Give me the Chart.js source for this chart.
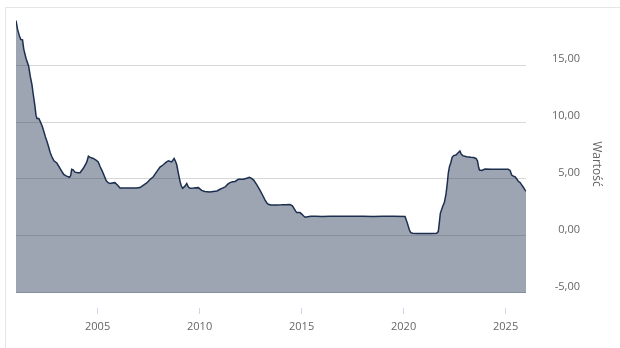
<!DOCTYPE html>
<html>

<head>
  <meta charset="utf-8">
  <title>WIBOR</title>
  <style>
    body { margin: 0; background: #fff; overflow: hidden; }
    #ramka {
      position: absolute; left: 5px; top: 7px; width: 700px; height: 400px;
      border-left: 1px solid #e6e6e6; border-top: 1px solid #e6e6e6;
    }
    #wykres { position: absolute; left: 0; top: 0; }
  </style>
</head>

<body>
  <div id="ramka"></div>
  <canvas id="wykres" width="620" height="348"></canvas>

  <script src="https://cdn.jsdelivr.net/npm/chart.js"></script>

  <script>
    // daty jako ułamek roku
    const daty = [
      2001.00, 2001.08, 2001.16, 2001.23, 2001.32, 2001.38, 2001.49, 2001.62, 2001.70, 2001.78,
      2001.84, 2001.92, 2001.98, 2002.03, 2002.12, 2002.20, 2002.29, 2002.36, 2002.44, 2002.52,
      2002.60, 2002.68, 2002.76, 2002.86, 2003.00, 2003.10, 2003.20, 2003.34, 2003.48, 2003.62,
      2003.68, 2003.73, 2003.80, 2003.89, 2004.04, 2004.14, 2004.30, 2004.40, 2004.47, 2004.55,
      2004.64, 2004.79, 2004.92, 2005.03, 2005.12, 2005.20, 2005.30, 2005.41, 2005.50, 2005.61,
      2005.72, 2005.85, 2005.97, 2006.10, 2006.30, 2006.60, 2006.90, 2007.08, 2007.20, 2007.32,
      2007.41, 2007.57, 2007.73, 2007.90, 2008.06, 2008.22, 2008.35, 2008.47, 2008.63, 2008.75,
      2008.82, 2008.88, 2008.96, 2009.04, 2009.10, 2009.17, 2009.27, 2009.37, 2009.45, 2009.53,
      2009.70, 2009.94, 2010.10, 2010.26, 2010.50, 2010.67, 2010.85, 2011.00, 2011.12, 2011.25,
      2011.38, 2011.49, 2011.62, 2011.74, 2011.90, 2012.05, 2012.14, 2012.31, 2012.44, 2012.55,
      2012.65, 2012.80, 2012.95, 2013.04, 2013.14, 2013.21, 2013.30, 2013.37, 2013.50, 2013.78,
      2014.00, 2014.20, 2014.43, 2014.55, 2014.62, 2014.70, 2014.76, 2014.92, 2015.02, 2015.10,
      2015.18, 2015.30, 2015.45, 2015.70, 2016.00, 2016.40, 2016.70, 2017.00, 2017.50, 2018.00,
      2018.50, 2019.00, 2019.50, 2020.07, 2020.18, 2020.28, 2020.35, 2020.45, 2020.70, 2021.00,
      2021.30, 2021.62, 2021.70, 2021.76, 2021.80, 2021.92, 2022.00, 2022.08, 2022.14, 2022.19,
      2022.25, 2022.31, 2022.38, 2022.45, 2022.57, 2022.65, 2022.76, 2022.82, 2022.90, 2023.09,
      2023.30, 2023.42, 2023.55, 2023.62, 2023.68, 2023.72, 2023.83, 2023.99, 2024.30, 2024.60,
      2024.90, 2025.13, 2025.22, 2025.30, 2025.38, 2025.46, 2025.55, 2025.62, 2025.70, 2025.78,
      2025.86, 2025.95, 2026.00
    ];

    const wartosci = [
      18.90, 18.10, 17.60, 17.25, 17.20, 16.40, 15.60, 14.90, 14.00, 13.30,
      12.50, 11.50, 10.60, 10.30, 10.30, 10.00, 9.60, 9.20, 8.70, 8.30,
      7.80, 7.30, 6.95, 6.60, 6.40, 6.10, 5.80, 5.40, 5.25, 5.15,
      5.30, 5.85, 5.80, 5.60, 5.55, 5.55, 5.94, 6.25, 6.50, 7.00,
      6.90, 6.80, 6.65, 6.50, 6.10, 5.80, 5.40, 4.90, 4.70, 4.60,
      4.65, 4.68, 4.47, 4.20, 4.20, 4.22, 4.20, 4.25, 4.40, 4.55,
      4.65, 4.95, 5.20, 5.64, 6.05, 6.25, 6.45, 6.60, 6.50, 6.80,
      6.55, 6.25, 5.50, 4.80, 4.40, 4.18, 4.35, 4.60, 4.30, 4.18,
      4.20, 4.24, 4.00, 3.90, 3.85, 3.90, 3.95, 4.10, 4.20, 4.30,
      4.55, 4.68, 4.75, 4.78, 4.97, 4.98, 4.97, 5.06, 5.15, 5.05,
      4.90, 4.50, 4.05, 3.75, 3.40, 3.15, 2.90, 2.78, 2.72, 2.72,
      2.73, 2.75, 2.76, 2.65, 2.45, 2.20, 2.05, 2.05, 1.90, 1.75,
      1.65, 1.68, 1.72, 1.72, 1.70, 1.72, 1.73, 1.73, 1.73, 1.72,
      1.71, 1.72, 1.72, 1.70, 1.15, 0.55, 0.29, 0.24, 0.22, 0.21,
      0.21, 0.23, 0.38, 1.30, 1.99, 2.60, 2.95, 3.70, 4.60, 5.50,
      6.10, 6.40, 6.90, 7.05, 7.10, 7.25, 7.45, 7.20, 7.05, 6.95,
      6.90, 6.88, 6.80, 6.60, 6.00, 5.78, 5.75, 5.88, 5.86, 5.85,
      5.85, 5.85, 5.75, 5.35, 5.25, 5.20, 5.00, 4.80, 4.70, 4.50,
      4.30, 4.05, 3.92
    ];

    const lataEtykiety = [2005, 2010, 2015, 2020, 2025];
    const wartosciEtykiety = [-5, 0, 5, 10, 15];

    const czcionka = { family: "'Open Sans', sans-serif", size: 11 };

    const ctx = document.getElementById('wykres').getContext('2d');

    const myChart = new Chart(ctx, {
      type: 'line',
      data: {
        datasets: [{
          label: 'Wartość',
          data: daty.map((x, i) => ({ x: x, y: wartosci[i] })),
          borderColor: '#1c2f4f',
          borderWidth: 1.5,
          backgroundColor: 'rgba(28, 47, 79, 0.43)',
          fill: { value: -5 },
          pointRadius: 0,
          tension: 0,
        }],
      },
      options: {
        responsive: false,
        animation: false,
        layout: { padding: { left: 16, top: 20, right: 16.8, bottom: 8 } },
        plugins: { legend: { display: false }, tooltip: { enabled: false } },
        scales: {
          x: {
            type: 'linear',
            position: 'bottom',
            min: 2001,
            max: 2026,
            afterBuildTicks: (scale) => {
              scale.ticks = lataEtykiety.map(v => ({ value: v }));
            },
            grid: { drawOnChartArea: false, drawTicks: true, tickLength: 6, tickColor: '#ccd6eb' },
            border: { display: false },
            ticks: {
              color: '#666666', font: czcionka, padding: 6.4, maxRotation: 0,
              callback: (v) => String(v),
            },
          },
          y: {
            type: 'linear',
            position: 'right',
            weight: 0,
            min: -6.32,
            max: 18.95,
            afterBuildTicks: (scale) => {
              scale.ticks = wartosciEtykiety.map(v => ({ value: v }));
            },
            afterFit: (scale) => { scale.width = 54; },
            grid: { color: '#d8d8d8', drawTicks: false },
            border: { display: false },
            ticks: {
              color: '#666666', font: czcionka, padding: 0, crossAlign: 'far', labelOffset: -6,
              callback: (v) => v.toFixed(2).replace('.', ','),
            },
          },
          tytul: {
            type: 'linear',
            position: 'right',
            weight: 1,
            afterFit: (scale) => { scale.width = 23.2; },
            grid: { display: false },
            border: { display: false },
            ticks: { display: false },
            title: {
              display: true, text: 'Wartość', color: '#666666',
              font: { family: "'Open Sans', sans-serif", size: 12 },
              padding: 0,
            },
          },
        },
      },
    });
  </script>
</body>

</html>
